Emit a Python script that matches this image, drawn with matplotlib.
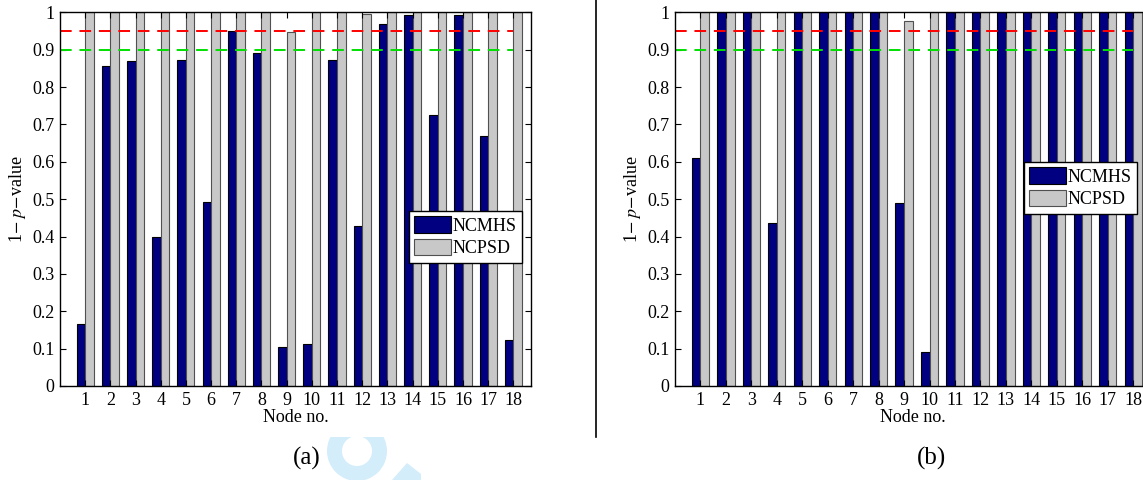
import numpy as np
import matplotlib
matplotlib.use('Agg')
import matplotlib.pyplot as plt
from matplotlib.patches import Wedge, Polygon, Rectangle

plt.rcParams['font.family'] = ['Liberation Serif', 'DejaVu Serif']
plt.rcParams['mathtext.fontset'] = 'stix'

# data
nodes = np.arange(1, 19)
ncmhs_a = [0.165, 0.855, 0.870, 0.400, 0.873, 0.493, 0.950, 0.890, 0.104,
           0.112, 0.872, 0.429, 0.969, 0.993, 0.726, 0.994, 0.669, 0.122]
ncpsd_a = [1.0, 1.0, 1.0, 1.0, 1.0, 1.0, 1.0, 1.0, 0.946,
           1.0, 1.0, 0.995, 1.0, 1.0, 1.0, 1.0, 1.0, 1.0]
ncmhs_b = [0.609, 1.0, 1.0, 0.435, 1.0, 1.0, 1.0, 1.0, 0.490,
           0.091, 1.0, 1.0, 1.0, 1.0, 1.0, 1.0, 1.0, 1.0]
ncpsd_b = [1.0, 1.0, 1.0, 1.0, 1.0, 1.0, 1.0, 1.0, 0.977,
           1.0, 1.0, 1.0, 1.0, 1.0, 1.0, 1.0, 1.0, 1.0]
thresholds = [0.95, 0.90]
threshold_colors = ['#ff0000', '#00e000']
yticks = [0, 0.1, 0.2, 0.3, 0.4, 0.5, 0.6, 0.7, 0.8, 0.9, 1.0]
yticklabels = ['0', '0.1', '0.2', '0.3', '0.4', '0.5', '0.6', '0.7', '0.8', '0.9', '1']

W, H = 1143, 480
fig = plt.figure(figsize=(W / 100, H / 100), dpi=100)

# background overlay in pixel coordinates (separator, panel letters, watermark)
bg = fig.add_axes([0, 0, 1, 1], zorder=0)
bg.set_xlim(0, W)
bg.set_ylim(H, 0)
bg.axis('off')
wm = '#d4edfb'
clip = Rectangle((300, 437), 150, 43, transform=bg.transData)
ring = Wedge((357, 451), 30, 0, 360, width=15, color=wm, lw=0)
bg.add_patch(ring)
ring.set_clip_path(clip)
bg.add_patch(Polygon([[392, 480], [407, 463], [421, 474], [421, 480]],
                     closed=True, color=wm, lw=0))
bg.plot([596, 596], [0, 437], color='black', lw=1.2)
bg.text(307, 458, '(a)', fontsize=18, ha='center', va='center')
bg.text(932, 458, '(b)', fontsize=18, ha='center', va='center')


def draw_panel(rect, blue, gray, legend_loc):
    ax = fig.add_axes(rect, zorder=1)
    ax.patch.set_alpha(0)
    w = 0.34
    ax.bar(nodes - w, blue, width=w, align='edge', color='#000080',
           edgecolor='black', lw=0.8, label='NCMHS')
    ax.bar(nodes, gray, width=w, align='edge', color='#c8c8c8',
           edgecolor='#505050', lw=0.8, label='NCPSD')
    for t, c in zip(thresholds, threshold_colors):
        ax.plot([0, 18], [t, t], '--', color=c, lw=1.4, dashes=(6, 4))
    ax.set_xlim(0, 18.7)
    ax.set_ylim(0, 1)
    ax.set_xticks(nodes)
    ax.set_xticklabels([str(n) for n in nodes])
    ax.set_yticks(yticks)
    ax.set_yticklabels(yticklabels)
    ax.tick_params(direction='in', top=True, right=True, length=4,
                   labelsize=13, width=0.8, pad=4)
    for s in ax.spines.values():
        s.set_linewidth(1.0)
    ax.set_xlabel('Node no.', fontsize=13, labelpad=0)
    ax.set_ylabel(r'1$-$ $p$$-$value', fontsize=13, labelpad=3)
    leg = ax.legend(loc='upper left', bbox_to_anchor=legend_loc, fontsize=13,
                    fancybox=False, framealpha=1, edgecolor='black',
                    handlelength=2.0, handleheight=1.0, borderpad=0.3,
                    labelspacing=0.25, handletextpad=0.1, borderaxespad=0)
    leg.get_frame().set_linewidth(1.0)
    return ax


# axes rectangles from pixel measurements
def rect_px(x0, x1, y0, y1):
    return [x0 / W, (H - y1) / H, (x1 - x0) / W, (y1 - y0) / H]


ax1 = draw_panel(rect_px(60, 531, 12.3, 386), ncmhs_a, ncpsd_a,
                 ((409 - 60) / 471, (386 - 211) / 373.7))
ax2 = draw_panel(rect_px(675, 1151, 12.3, 386), ncmhs_b, ncpsd_b,
                 ((1024 - 675) / 476, (386 - 162) / 373.7))

fig.savefig('out.png', dpi=100)
